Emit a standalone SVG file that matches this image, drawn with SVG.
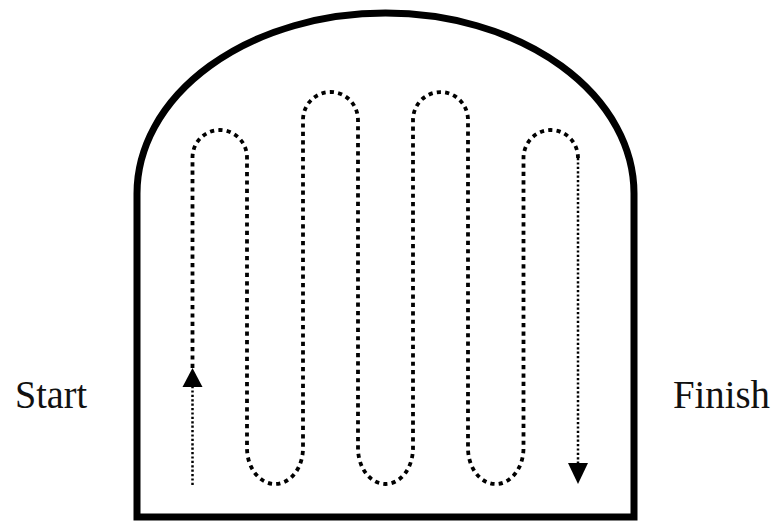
<svg xmlns="http://www.w3.org/2000/svg" width="774" height="524" viewBox="0 0 774 524">
<style>
.outline{fill:none;stroke:#000;stroke-width:7;stroke-linejoin:miter}
.thick{fill:none;stroke:#000;stroke-width:3.8;stroke-dasharray:4.2 4.2}
.fine{fill:none;stroke:#000;stroke-width:2.5;stroke-dasharray:2.2 2.2}
.head{fill:#000;stroke:none}
.lbl{font-family:"Liberation Serif","Times New Roman",serif;font-size:41px;fill:#111}
</style>
<rect width="774" height="524" fill="#fff"/>
<g id="chamber">
<path class="outline" d="M137,193.5 A248.5,180.5 0 0 1 634,193.5 L634,517 L137,517 Z"/>
</g>
<g id="connectors">
<path class="fine" d="M192.5,485 L192.5,387"/>
<polygon class="head" points="192.5,368 182.5,387 202.5,387"/>
<path class="thick" d="M192.5,368 L192.5,157.5 A27.25,27.5 0 0 1 247,157.5 L247,448 A28,36 0 0 0 303,448 L303,120 A27.5,28 0 0 1 358,120 L358,448 A27.5,36 0 0 0 413,448 L413,120 A27.5,28 0 0 1 468,120 L468,448 A27.75,36 0 0 0 523.5,448 L523.5,158 A27.25,28 0 0 1 578,158"/>
<path class="fine" d="M578,158 L578,463"/>
<polygon class="head" points="568,463 588,463 578,484"/>
</g>
<g id="start">
<text class="lbl" x="15" y="408" textLength="72" lengthAdjust="spacingAndGlyphs">Start</text>
</g>
<g id="finish">
<text class="lbl" x="673" y="408" textLength="97" lengthAdjust="spacingAndGlyphs">Finish</text>
</g>
</svg>
